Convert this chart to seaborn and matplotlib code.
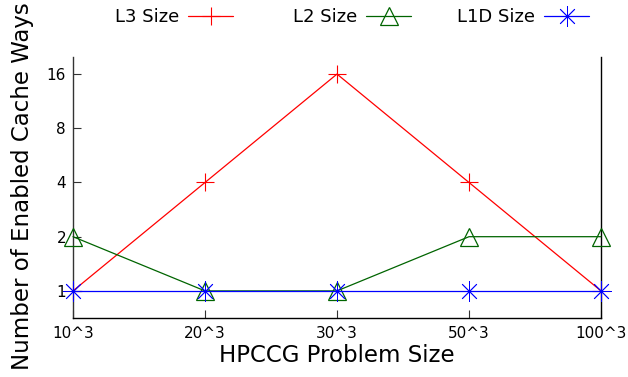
import matplotlib
matplotlib.use("Agg")
import matplotlib.pyplot as plt
import seaborn as sns
import pandas as pd
import numpy as np

# Problem sizes and enabled cache ways per cache level
sizes = ["10^3", "20^3", "30^3", "50^3", "100^3"]
l3_ways = [1, 4, 16, 4, 1]
l2_ways = [2, 1, 1, 2, 2]
l1d_ways = [1, 1, 1, 1, 1]
y_ticks = [1, 2, 4, 8, 16]

series = [
    ("L3 Size", l3_ways, "#ff0000", "+", 13, 0.8),
    ("L2 Size", l2_ways, "#006400", "^", 13, 0.9),
    ("L1D Size", l1d_ways, "#0000ff", (8, 2, 0), 15, 0.6),
]

sns.set_theme(style="white")
plt.rcParams["font.family"] = ["DejaVu Sans"]
plt.rcParams["text.color"] = "black"
plt.rcParams["axes.labelcolor"] = "black"

fig = plt.figure(figsize=(6.28, 3.77), dpi=100)
ax = fig.add_axes([73 / 628, 1 - 318 / 377, (601 - 73) / 628, (318 - 57) / 377])

pos = np.arange(len(sizes))
handles = []
for name, vals, color, marker, msize, mew in series:
    df = pd.DataFrame({"pos": pos, "ways": vals})
    sns.lineplot(data=df, x="pos", y="ways", ax=ax, color=color, lw=0.9,
                 marker=marker, markersize=msize,
                 markerfacecolor="none", markeredgecolor=color,
                 markeredgewidth=mew, label=name, clip_on=False, zorder=3)
    handles.append(ax.get_lines()[-1])

ax.get_legend().remove()

ax.set_yscale("log", base=2)
ax.set_ylim(2 ** -0.5, 2 ** 4.315)
ax.set_xlim(0, len(sizes) - 1)
ax.set_yticks(y_ticks)
ax.set_yticklabels([str(t) for t in y_ticks])
ax.yaxis.set_minor_locator(matplotlib.ticker.NullLocator())
ax.set_xticks(pos)
ax.set_xticklabels(sizes)

ax.tick_params(axis="both", which="major", direction="in", length=6,
               width=0.8, labelsize=11, color="#333333", labelcolor="black",
               left=True, bottom=True, right=False, top=False)
ax.tick_params(axis="x", pad=6)
ax.tick_params(axis="y", pad=5)

for side in ["left", "right", "bottom"]:
    ax.spines[side].set_visible(True)
    ax.spines[side].set_color("black")
    ax.spines[side].set_linewidth(1.0)
ax.spines["left"].set_color("#333333")
ax.spines["top"].set_visible(False)

ax.set_xlabel("HPCCG Problem Size", fontsize=16.5, labelpad=2)
ax.set_ylabel("Number of Enabled Cache Ways", fontsize=16.5)
ax.yaxis.set_label_coords(-39 / 528, 0.504)

# One legend entry per level, placed along the top
legend_x = [115 / 628, 293 / 628, 457 / 628]
for h, x in zip(handles, legend_x):
    fig.legend(handles=[h], labels=[h.get_label()], loc="center left",
               bbox_to_anchor=(x, 1 - 17 / 377), frameon=False,
               markerfirst=False, fontsize=13, handlelength=2.5,
               handletextpad=0.5, borderpad=0, borderaxespad=0,
               labelcolor="black")

fig.savefig("out.png", dpi=100)
